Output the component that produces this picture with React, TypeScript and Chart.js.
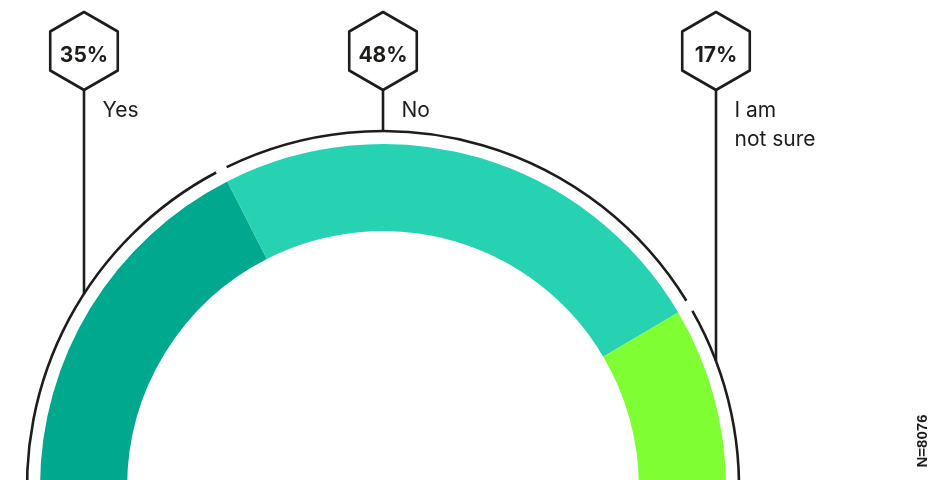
import React, { useEffect, useRef } from "react";
import { Chart, registerables } from "chart.js";

Chart.register(...registerables);

// ---- data ----
const categories = ["Yes", "No", "I am not sure"];
const labelLines = [["Yes"], ["No"], ["I am", "not sure"]];
const values = [35, 48, 17];
const percentLabels = ["35%", "48%", "17%"];
const sampleNote = "N=8076";

// ---- style / layout ----
const colors = ["#00A88E", "#27D2B2", "#7FFF33"];
const INK = "#1d1d1b";
const W = 947;
const H = 631;
const OUTER_R = 343;
const CUTOUT = "74.6%";
const RING_R = 356;
const LEADER_DX = [-299, 0, 333];
const HEX_CY = 51;
const HEX_R = 39;

const overlayPlugin = {
  id: "overlay",
  afterDraw(chart: any) {
    const ctx = chart.ctx as CanvasRenderingContext2D;
    const meta = chart.getDatasetMeta(0);
    const arcs = meta.data as any[];
    if (!arcs.length) return;
    const p0 = arcs[0].getProps(["x", "y", "startAngle"], true);
    const last = arcs[arcs.length - 1].getProps(["endAngle"], true);
    const cx = p0.x;
    const cy = p0.y;
    ctx.save();
    ctx.strokeStyle = INK;
    ctx.lineWidth = 2.6;
    ctx.lineCap = "butt";
    // outer thin ring with gaps at segment boundaries
    const gap = 0.0165;
    const bounds = arcs.slice(1).map((a) => a.getProps(["startAngle"], true).startAngle);
    const pieces: [number, number][] = [];
    let s = p0.startAngle - 0.1;
    bounds.forEach((b) => {
      pieces.push([s, b - gap]);
      s = b + gap;
    });
    pieces.push([s, last.endAngle + 0.1]);
    pieces.forEach(([a, b]) => {
      ctx.beginPath();
      ctx.arc(cx, cy, RING_R, a, b);
      ctx.stroke();
    });

    // leader lines, hexagons, labels
    ctx.lineJoin = "round";
    values.forEach((_, i) => {
      const dx = LEADER_DX[i];
      const x = cx + dx;
      const yEnd = cy - Math.sqrt(RING_R * RING_R - dx * dx);
      ctx.beginPath();
      ctx.moveTo(x, HEX_CY + HEX_R);
      ctx.lineTo(x, yEnd);
      ctx.stroke();

      ctx.beginPath();
      for (let k = 0; k < 6; k++) {
        const ang = -Math.PI / 2 + (k * Math.PI) / 3;
        const px = x + HEX_R * Math.cos(ang);
        const py = HEX_CY + HEX_R * Math.sin(ang);
        if (k === 0) ctx.moveTo(px, py);
        else ctx.lineTo(px, py);
      }
      ctx.closePath();
      ctx.fillStyle = "#ffffff";
      ctx.fill();
      ctx.stroke();

      ctx.fillStyle = INK;
      ctx.font = "700 21px Inter";
      ctx.textAlign = "center";
      ctx.textBaseline = "alphabetic";
      ctx.fillText(percentLabels[i], x, HEX_CY + 10.5);

      ctx.font = "400 21px Inter";
      ctx.textAlign = "left";
      labelLines[i].forEach((t, j) => {
        ctx.fillText(t, x + 18.5, 117 + j * 29);
      });
    });

    // sample size note
    ctx.save();
    ctx.translate(923, 441);
    ctx.rotate(-Math.PI / 2);
    ctx.font = "700 15px 'Liberation Sans'";
    ctx.textAlign = "center";
    ctx.textBaseline = "middle";
    ctx.fillStyle = INK;
    ctx.fillText(sampleNote, 0, 0);
    ctx.restore();

    ctx.restore();
  },
};

export default function App() {
  const ref = useRef<HTMLCanvasElement | null>(null);
  useEffect(() => {
    if (!ref.current) return;
    const chart = new Chart(ref.current, {
      type: "doughnut",
      data: {
        labels: categories,
        datasets: [
          {
            data: values,
            backgroundColor: colors,
            borderWidth: 0,
            hoverOffset: 0,
          },
        ],
      },
      options: {
        responsive: false,
        animation: false,
        rotation: -90,
        circumference: 180,
        radius: OUTER_R,
        cutout: CUTOUT,
        layout: { padding: { left: 0, right: W - 766, top: 0, bottom: 0 } },
        plugins: {
          legend: { display: false },
          tooltip: { enabled: false },
        },
        events: [],
      } as any,
      plugins: [overlayPlugin],
    });
    return () => chart.destroy();
  }, []);
  return (
    <div
      style={{
        position: "fixed",
        left: 0,
        top: 0,
        width: W,
        height: 480,
        overflow: "hidden",
        background: "#ffffff",
      }}
    >
      <canvas ref={ref} width={W} height={H} style={{ display: "block" }} />
    </div>
  );
}
